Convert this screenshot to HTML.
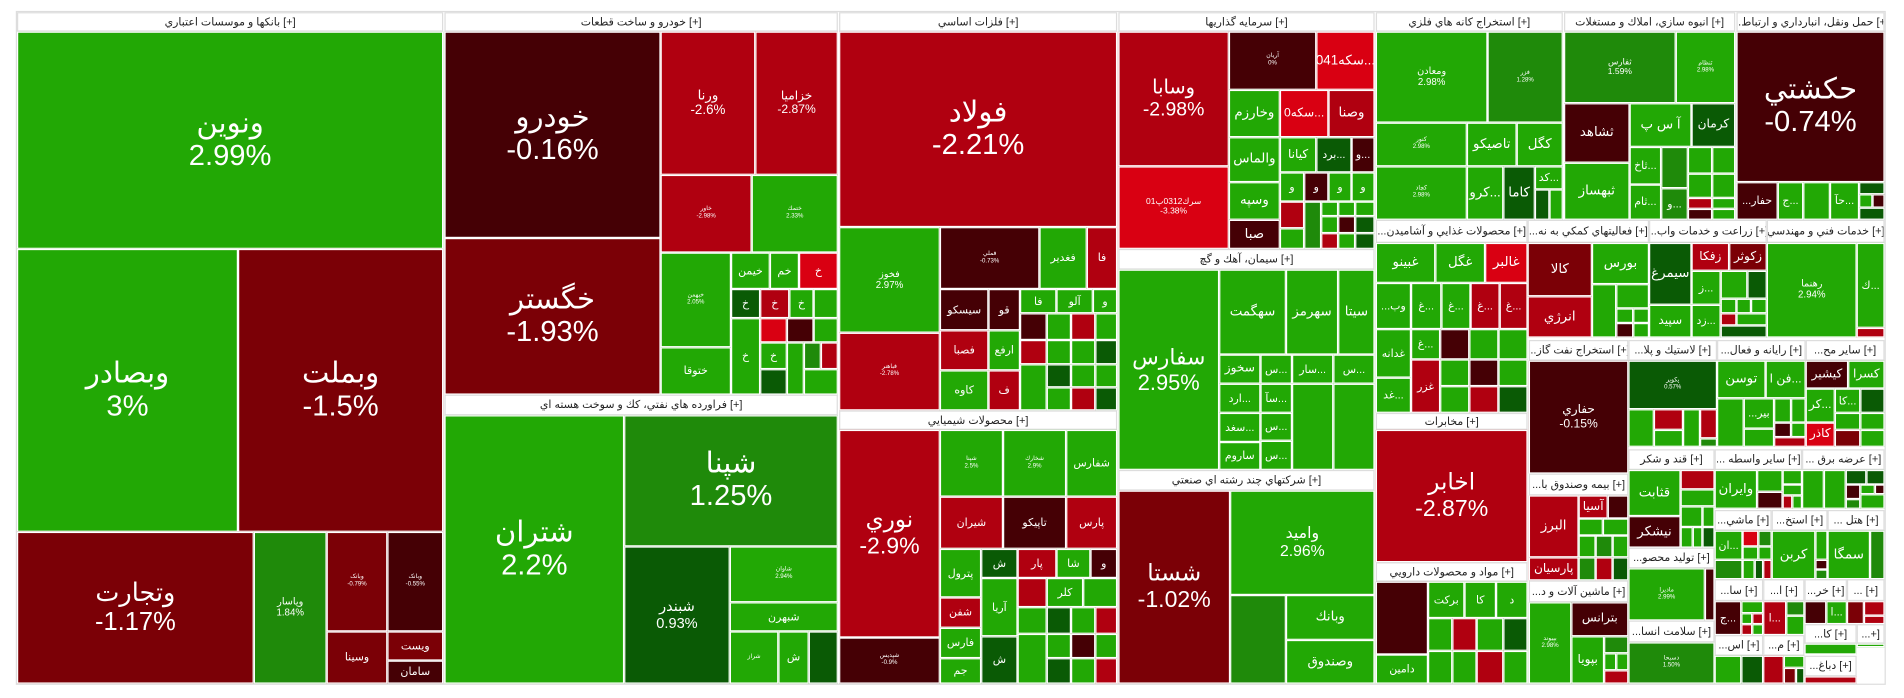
<!DOCTYPE html>
<html><head><meta charset="utf-8"><style>
html,body{margin:0;padding:0;background:#fff;width:1904px;height:698px;overflow:hidden}
#w{position:absolute;left:0;top:0;width:1568px;height:575px;transform:scale(1.2143);transform-origin:0 0}
.c,.h{position:absolute;box-sizing:border-box;overflow:hidden;display:flex;align-items:center;justify-content:center;text-align:center;font-family:"Liberation Sans","DejaVu Sans",sans-serif;line-height:1.12;white-space:nowrap}
.c{border:1px solid #fff;color:#fff;font-size:9px}
.h{background:#fff;border:1px solid #ddd;color:#222;font-size:9px}
.g{background:#22a805}.m{background:#1f8a0a}.d{background:#0a5a05}.k{background:#450005}.r{background:#7b0006}.b{background:#b00010}.e{background:#d90012}
.L{font-size:24px}.M{font-size:14px}.S{font-size:11px}.t{font-size:5px}
</style></head><body><div id="w">
<div style="position:absolute;left:13px;top:9px;width:1540px;height:555px;border:1px solid #ddd;box-sizing:border-box"></div>
<!-- banks -->
<div class="h" style="left:14px;top:10px;width:351px;height:16px">بانکها و موسسات اعتباري [+]</div>
<div class="c g L" style="left:14px;top:26px;width:351px;height:179px">ونوین<br>2.99%</div>
<div class="c g L" style="left:14px;top:205px;width:182px;height:233px">وبصادر<br>3%</div>
<div class="c r L" style="left:196px;top:205px;width:169px;height:233px">وبملت<br>-1.5%</div>
<div class="c r" style="left:14px;top:438px;width:195px;height:125px;font-size:21px">وتجارت<br>-1.17%</div>
<div class="c m" style="left:209px;top:438px;width:60px;height:125px;font-size:8px">وپاسار<br>1.84%</div>
<div class="c r t" style="left:269px;top:438px;width:50px;height:82px">وبانک<br>-0.79%</div>
<div class="c k t" style="left:319px;top:438px;width:46px;height:82px">وبانک<br>-0.55%</div>
<div class="c r" style="left:269px;top:520px;width:50px;height:43px">وسينا</div>
<div class="c r" style="left:319px;top:520px;width:46px;height:24px">ويست</div>
<div class="c k" style="left:319px;top:544px;width:46px;height:19px">سامان</div>
<!-- auto -->
<div class="h" style="left:366px;top:10px;width:324px;height:16px">خودرو و ساخت قطعات [+]</div>
<div class="c k L" style="left:366px;top:26px;width:178px;height:170px">خودرو<br>-0.16%</div>
<div class="c r L" style="left:366px;top:196px;width:178px;height:129px">خگستر<br>-1.93%</div>
<div class="c b S" style="left:544px;top:26px;width:78px;height:118px">ورنا<br>-2.6%</div>
<div class="c b" style="left:622px;top:26px;width:68px;height:118px;font-size:10px">خزاميا<br>-2.87%</div>
<div class="c b t" style="left:544px;top:144px;width:75px;height:64px">خاور<br>-2.98%</div>
<div class="c g t" style="left:619px;top:144px;width:71px;height:64px">ختمك<br>2.33%</div>
<div class="c g t" style="left:544px;top:208px;width:58px;height:78px">خبهمن<br>2.05%</div>
<div class="c g" style="left:544px;top:286px;width:58px;height:39px">ختوقا</div>
<div class="c g" style="left:602px;top:208px;width:32px;height:30px">خيمن</div>
<div class="c g" style="left:634px;top:208px;width:24px;height:30px">خم</div>
<div class="c e" style="left:658px;top:208px;width:32px;height:30px">خ</div>
<div class="c d" style="left:602px;top:238px;width:24px;height:24px">خ</div>
<div class="c b" style="left:626px;top:238px;width:24px;height:24px">خ</div>
<div class="c g" style="left:650px;top:238px;width:20px;height:24px">خ</div>
<div class="c g" style="left:670px;top:238px;width:20px;height:24px"></div>
<div class="c g" style="left:602px;top:262px;width:24px;height:63px">خ</div>
<div class="c e" style="left:626px;top:262px;width:22px;height:20px"></div>
<div class="c g" style="left:626px;top:282px;width:22px;height:22px">خ</div>
<div class="c d" style="left:626px;top:304px;width:22px;height:21px"></div>
<div class="c k" style="left:648px;top:262px;width:22px;height:20px"></div>
<div class="c g" style="left:670px;top:262px;width:20px;height:20px"></div>
<div class="c g" style="left:648px;top:282px;width:14px;height:43px"></div>
<div class="c m" style="left:662px;top:282px;width:14px;height:22px"></div>
<div class="c b" style="left:676px;top:282px;width:14px;height:22px"></div>
<div class="c g" style="left:662px;top:304px;width:28px;height:21px"></div>
<!-- refinery -->
<div class="h" style="left:366px;top:325px;width:324px;height:17px">فراورده هاي نفتي، کك و سوخت هسته اي [+]</div>
<div class="c g L" style="left:366px;top:342px;width:148px;height:221px">شتران<br>2.2%</div>
<div class="c m L" style="left:514px;top:342px;width:176px;height:108px">شپنا<br>1.25%</div>
<div class="c d" style="left:514px;top:450px;width:87px;height:113px;font-size:12px">شبندر<br>0.93%</div>
<div class="c g t" style="left:601px;top:450px;width:89px;height:46px">شاوان<br>2.94%</div>
<div class="c g" style="left:601px;top:496px;width:89px;height:24px">شبهرن</div>
<div class="c g t" style="left:601px;top:520px;width:40px;height:43px">شراز</div>
<div class="c g" style="left:641px;top:520px;width:25px;height:43px">ش</div>
<div class="c d" style="left:666px;top:520px;width:24px;height:43px"></div>
<!-- metals -->
<div class="h" style="left:691px;top:10px;width:229px;height:16px">فلزات اساسي [+]</div>
<div class="c b L" style="left:691px;top:26px;width:229px;height:161px">فولاد<br>-2.21%</div>
<div class="c g" style="left:691px;top:187px;width:83px;height:87px;font-size:8px">فخوز<br>2.97%</div>
<div class="c b t" style="left:691px;top:274px;width:83px;height:64px">فباهنر<br>-2.78%</div>
<div class="c k t" style="left:774px;top:187px;width:82px;height:51px">فملي<br>-0.73%</div>
<div class="c g" style="left:856px;top:187px;width:39px;height:51px">فغدير</div>
<div class="c b" style="left:895px;top:187px;width:25px;height:51px">فا</div>
<div class="c k" style="left:774px;top:238px;width:40px;height:34px">سيسكو</div>
<div class="c k" style="left:814px;top:238px;width:26px;height:34px">قو</div>
<div class="c g" style="left:840px;top:238px;width:30px;height:20px">فا</div>
<div class="c g" style="left:870px;top:238px;width:30px;height:20px">آلو</div>
<div class="c g" style="left:900px;top:238px;width:20px;height:20px">و</div>
<div class="c b" style="left:774px;top:272px;width:40px;height:33px">فصبا</div>
<div class="c g" style="left:814px;top:272px;width:26px;height:33px">ارفع</div>
<div class="c g" style="left:774px;top:305px;width:40px;height:33px">كاوه</div>
<div class="c b" style="left:814px;top:305px;width:26px;height:33px">ف</div>
<div class="c k" style="left:840px;top:258px;width:22px;height:22px"></div>
<div class="c g" style="left:862px;top:258px;width:20px;height:22px"></div>
<div class="c b" style="left:882px;top:258px;width:20px;height:22px"></div>
<div class="c g" style="left:902px;top:258px;width:18px;height:22px"></div>
<div class="c b" style="left:840px;top:280px;width:22px;height:20px"></div>
<div class="c g" style="left:862px;top:280px;width:20px;height:20px"></div>
<div class="c g" style="left:882px;top:280px;width:20px;height:20px"></div>
<div class="c d" style="left:902px;top:280px;width:18px;height:20px"></div>
<div class="c g" style="left:840px;top:300px;width:22px;height:38px"></div>
<div class="c d" style="left:862px;top:300px;width:20px;height:19px"></div>
<div class="c g" style="left:882px;top:300px;width:20px;height:19px"></div>
<div class="c g" style="left:902px;top:300px;width:18px;height:19px"></div>
<div class="c g" style="left:862px;top:319px;width:20px;height:19px"></div>
<div class="c b" style="left:882px;top:319px;width:20px;height:19px"></div>
<div class="c d" style="left:902px;top:319px;width:18px;height:19px"></div>
<!-- chem -->
<div class="h" style="left:691px;top:338px;width:229px;height:16px">محصولات شيميايي [+]</div>
<div class="c b L" style="left:691px;top:354px;width:83px;height:171px;font-size:19px">نوري<br>-2.9%</div>
<div class="c k t" style="left:691px;top:525px;width:83px;height:38px">شپديس<br>-0.9%</div>
<div class="c g t" style="left:774px;top:354px;width:52px;height:55px">شپنا<br>2.5%</div>
<div class="c g t" style="left:826px;top:354px;width:52px;height:55px">شخارك<br>2.9%</div>
<div class="c g" style="left:878px;top:354px;width:42px;height:55px">شفارس</div>
<div class="c b" style="left:774px;top:409px;width:52px;height:43px">شيران</div>
<div class="c k" style="left:826px;top:409px;width:52px;height:43px">تاپيكو</div>
<div class="c b" style="left:878px;top:409px;width:42px;height:43px">پارس</div>
<div class="c g" style="left:774px;top:452px;width:34px;height:40px">پترول</div>
<div class="c d" style="left:808px;top:452px;width:30px;height:24px">ش</div>
<div class="c b" style="left:838px;top:452px;width:32px;height:24px">پار</div>
<div class="c g" style="left:870px;top:452px;width:28px;height:24px">شا</div>
<div class="c k" style="left:898px;top:452px;width:22px;height:24px">و</div>
<div class="c b" style="left:774px;top:492px;width:34px;height:25px">شفن</div>
<div class="c g" style="left:774px;top:517px;width:34px;height:25px">فارس</div>
<div class="c g" style="left:774px;top:542px;width:34px;height:21px">جم</div>
<div class="c g" style="left:808px;top:476px;width:30px;height:48px">آريا</div>
<div class="c d" style="left:808px;top:524px;width:30px;height:39px">ش</div>
<div class="c b" style="left:838px;top:476px;width:24px;height:24px"></div>
<div class="c g" style="left:862px;top:476px;width:30px;height:24px">كلر</div>
<div class="c g" style="left:892px;top:476px;width:28px;height:24px"></div>
<div class="c g" style="left:838px;top:500px;width:24px;height:22px"></div>
<div class="c d" style="left:862px;top:500px;width:20px;height:22px"></div>
<div class="c g" style="left:882px;top:500px;width:20px;height:22px"></div>
<div class="c b" style="left:902px;top:500px;width:18px;height:22px"></div>
<div class="c g" style="left:838px;top:522px;width:24px;height:41px"></div>
<div class="c g" style="left:862px;top:522px;width:20px;height:20px"></div>
<div class="c k" style="left:882px;top:522px;width:20px;height:20px"></div>
<div class="c g" style="left:902px;top:522px;width:18px;height:20px"></div>
<div class="c d" style="left:862px;top:542px;width:20px;height:21px"></div>
<div class="c g" style="left:882px;top:542px;width:20px;height:21px"></div>
<div class="c b" style="left:902px;top:542px;width:18px;height:21px"></div>
<!-- invest -->
<div class="h" style="left:921px;top:10px;width:211px;height:16px">سرمايه گذاريها [+]</div>
<div class="c b" style="left:921px;top:26px;width:91px;height:111px;font-size:16px">وسابا<br>-2.98%</div>
<div class="c e" style="left:921px;top:137px;width:91px;height:68px;font-size:7px">سرك0312پ01<br>-3.38%</div>
<div class="c k t" style="left:1012px;top:26px;width:72px;height:48px">آريان<br>0%</div>
<div class="c e S" style="left:1084px;top:26px;width:48px;height:48px">سكه041...</div>
<div class="c g S" style="left:1012px;top:74px;width:42px;height:39px">وخارزم</div>
<div class="c e" style="left:1054px;top:74px;width:40px;height:39px;font-size:10px">سكه0...</div>
<div class="c b S" style="left:1094px;top:74px;width:38px;height:39px">وصنا</div>
<div class="c g S" style="left:1012px;top:113px;width:42px;height:37px">والماس</div>
<div class="c g" style="left:1054px;top:113px;width:30px;height:29px;font-size:10px">كيانا</div>
<div class="c d" style="left:1084px;top:113px;width:29px;height:29px">برد...</div>
<div class="c k" style="left:1113px;top:113px;width:19px;height:29px">و...</div>
<div class="c g S" style="left:1012px;top:150px;width:42px;height:31px">وسپه</div>
<div class="c k S" style="left:1012px;top:181px;width:42px;height:24px">صبا</div>
<div class="c g" style="left:1054px;top:142px;width:20px;height:24px">و</div>
<div class="c k" style="left:1074px;top:142px;width:20px;height:24px">و</div>
<div class="c g" style="left:1094px;top:142px;width:19px;height:24px">و</div>
<div class="c g" style="left:1113px;top:142px;width:19px;height:24px">و</div>
<div class="c b" style="left:1054px;top:166px;width:20px;height:22px"></div>
<div class="c g" style="left:1054px;top:188px;width:20px;height:17px"></div>
<div class="c m" style="left:1074px;top:166px;width:14px;height:39px"></div>
<div class="c g" style="left:1088px;top:166px;width:14px;height:12px"></div>
<div class="c g" style="left:1102px;top:166px;width:14px;height:12px"></div>
<div class="c g" style="left:1116px;top:166px;width:16px;height:12px"></div>
<div class="c g" style="left:1088px;top:178px;width:14px;height:14px"></div>
<div class="c k" style="left:1102px;top:178px;width:14px;height:14px"></div>
<div class="c d" style="left:1116px;top:178px;width:16px;height:14px"></div>
<div class="c b" style="left:1088px;top:192px;width:14px;height:13px"></div>
<div class="c g" style="left:1102px;top:192px;width:14px;height:13px"></div>
<div class="c d" style="left:1116px;top:192px;width:16px;height:13px"></div>
<!-- cement -->
<div class="h" style="left:921px;top:205px;width:211px;height:17px">سيمان، آهك و گچ [+]</div>
<div class="c g" style="left:921px;top:222px;width:83px;height:165px;font-size:18px">سفارس<br>2.95%</div>
<div class="c g S" style="left:1004px;top:222px;width:55px;height:70px">سهگمت</div>
<div class="c g S" style="left:1059px;top:222px;width:43px;height:70px">سهرمز</div>
<div class="c g S" style="left:1102px;top:222px;width:30px;height:70px">سيتا</div>
<div class="c g" style="left:1004px;top:292px;width:34px;height:24px;font-size:10px">سخوز</div>
<div class="c g" style="left:1038px;top:292px;width:26px;height:24px">س...</div>
<div class="c g" style="left:1064px;top:292px;width:34px;height:24px">سار...</div>
<div class="c g" style="left:1098px;top:292px;width:34px;height:24px">س...</div>
<div class="c g" style="left:1004px;top:316px;width:34px;height:24px">ارد...</div>
<div class="c g" style="left:1038px;top:316px;width:26px;height:24px">سآ...</div>
<div class="c g" style="left:1064px;top:316px;width:34px;height:71px"></div>
<div class="c g" style="left:1098px;top:316px;width:34px;height:71px"></div>
<div class="c g" style="left:1004px;top:340px;width:34px;height:24px">سغد...</div>
<div class="c g" style="left:1038px;top:340px;width:26px;height:23px">س...</div>
<div class="c g" style="left:1038px;top:363px;width:26px;height:24px">س...</div>
<div class="c g" style="left:1004px;top:364px;width:34px;height:23px">ساروم</div>
<!-- multi -->
<div class="h" style="left:921px;top:387px;width:211px;height:17px">شرکتهاي چند رشته اي صنعتي [+]</div>
<div class="c r" style="left:921px;top:404px;width:92px;height:159px;font-size:19px">شستا<br>-1.02%</div>
<div class="c g" style="left:1013px;top:404px;width:119px;height:86px;font-size:13px">وامید<br>2.96%</div>
<div class="c m" style="left:1013px;top:490px;width:46px;height:73px"></div>
<div class="c g S" style="left:1059px;top:490px;width:73px;height:37px">وبانك</div>
<div class="c g S" style="left:1059px;top:527px;width:73px;height:36px">وصندوق</div>
<!-- mining -->
<div class="h" style="left:1133px;top:10px;width:154px;height:16px">استخراج كانه هاي فلزي [+]</div>
<div class="c g" style="left:1133px;top:26px;width:92px;height:75px;font-size:8px">ومعادن<br>2.98%</div>
<div class="c m t" style="left:1225px;top:26px;width:62px;height:75px">فزر<br>1.28%</div>
<div class="c g t" style="left:1133px;top:101px;width:75px;height:36px">كنور<br>2.98%</div>
<div class="c g S" style="left:1208px;top:101px;width:41px;height:36px">تاصيكو</div>
<div class="c g S" style="left:1249px;top:101px;width:38px;height:36px">كگل</div>
<div class="c g t" style="left:1133px;top:137px;width:75px;height:44px">كچاد<br>2.98%</div>
<div class="c g S" style="left:1208px;top:137px;width:30px;height:44px">كرو...</div>
<div class="c d S" style="left:1238px;top:137px;width:26px;height:44px">كاما</div>
<div class="c g" style="left:1264px;top:137px;width:23px;height:19px">كد...</div>
<div class="c d" style="left:1264px;top:156px;width:12px;height:25px"></div>
<div class="c g" style="left:1276px;top:156px;width:11px;height:25px"></div>
<!-- food -->
<div class="h" style="left:1133px;top:181px;width:125px;height:19px">...محصولات غذايي و آشاميدن [+]</div>
<div class="c g S" style="left:1133px;top:200px;width:49px;height:33px">غبينو</div>
<div class="c g S" style="left:1182px;top:200px;width:41px;height:33px">غگل</div>
<div class="c e S" style="left:1223px;top:200px;width:35px;height:33px">غالبر</div>
<div class="c g" style="left:1133px;top:233px;width:29px;height:38px">...وب</div>
<div class="c g" style="left:1162px;top:233px;width:25px;height:38px">غ...</div>
<div class="c g" style="left:1187px;top:233px;width:24px;height:38px">غ...</div>
<div class="c b" style="left:1211px;top:233px;width:24px;height:38px">غ...</div>
<div class="c b" style="left:1235px;top:233px;width:23px;height:38px">غ...</div>
<div class="c g" style="left:1133px;top:271px;width:29px;height:40px">غدانه</div>
<div class="c g" style="left:1162px;top:271px;width:24px;height:25px">غ...</div>
<div class="c k" style="left:1186px;top:271px;width:24px;height:25px"></div>
<div class="c g" style="left:1210px;top:271px;width:24px;height:25px"></div>
<div class="c g" style="left:1234px;top:271px;width:24px;height:25px"></div>
<div class="c b" style="left:1162px;top:296px;width:24px;height:44px">غزر</div>
<div class="c g" style="left:1186px;top:296px;width:24px;height:22px"></div>
<div class="c k" style="left:1210px;top:296px;width:24px;height:22px"></div>
<div class="c g" style="left:1234px;top:296px;width:24px;height:22px"></div>
<div class="c g" style="left:1186px;top:318px;width:24px;height:22px"></div>
<div class="c b" style="left:1210px;top:318px;width:24px;height:22px"></div>
<div class="c d" style="left:1234px;top:318px;width:24px;height:22px"></div>
<div class="c g" style="left:1133px;top:311px;width:29px;height:29px">غد...</div>
<!-- telecom -->
<div class="h" style="left:1133px;top:340px;width:125px;height:14px">مخابرات [+]</div>
<div class="c b" style="left:1133px;top:354px;width:125px;height:109px;font-size:19px">اخابر<br>-2.87%</div>
<div class="h" style="left:1133px;top:463px;width:125px;height:16px">مواد و محصولات دارويي [+]</div>
<div class="c k" style="left:1133px;top:479px;width:43px;height:60px"></div>
<div class="c g" style="left:1133px;top:539px;width:43px;height:24px">دامين</div>
<div class="c g" style="left:1176px;top:479px;width:30px;height:30px">بركت</div>
<div class="c g" style="left:1206px;top:479px;width:26px;height:30px">كا</div>
<div class="c g" style="left:1232px;top:479px;width:26px;height:30px">د</div>
<div class="c g" style="left:1176px;top:509px;width:20px;height:27px"></div>
<div class="c b" style="left:1196px;top:509px;width:20px;height:27px"></div>
<div class="c g" style="left:1216px;top:509px;width:22px;height:27px"></div>
<div class="c d" style="left:1238px;top:509px;width:20px;height:27px"></div>
<div class="c g" style="left:1176px;top:536px;width:20px;height:27px"></div>
<div class="c g" style="left:1196px;top:536px;width:20px;height:27px"></div>
<div class="c b" style="left:1216px;top:536px;width:22px;height:27px"></div>
<div class="c g" style="left:1238px;top:536px;width:20px;height:27px"></div>
<!-- real estate -->
<div class="h" style="left:1288px;top:10px;width:141px;height:16px">انبوه سازي، املاك و مستغلات [+]</div>
<div class="c m t" style="left:1288px;top:26px;width:92px;height:59px;font-size:7px">ثفارس<br>1.59%</div>
<div class="c g t" style="left:1380px;top:26px;width:49px;height:59px">ثنظام<br>2.98%</div>
<div class="c k S" style="left:1288px;top:85px;width:54px;height:49px">ثشاهد</div>
<div class="c g S" style="left:1342px;top:85px;width:51px;height:36px">آ س پ</div>
<div class="c d" style="left:1393px;top:85px;width:36px;height:36px;font-size:10px">كرمان</div>
<div class="c g S" style="left:1288px;top:134px;width:54px;height:47px">ثبهساز</div>
<div class="c g" style="left:1342px;top:121px;width:26px;height:31px">ثاخ...</div>
<div class="c m" style="left:1368px;top:121px;width:22px;height:34px"></div>
<div class="c g" style="left:1390px;top:121px;width:20px;height:22px"></div>
<div class="c g" style="left:1410px;top:121px;width:19px;height:22px"></div>
<div class="c g" style="left:1390px;top:143px;width:20px;height:20px"></div>
<div class="c g" style="left:1410px;top:143px;width:19px;height:20px"></div>
<div class="c g" style="left:1342px;top:152px;width:26px;height:29px">ثام...</div>
<div class="c m" style="left:1368px;top:155px;width:22px;height:26px">و...</div>
<div class="c b" style="left:1390px;top:163px;width:20px;height:9px"></div>
<div class="c g" style="left:1410px;top:163px;width:19px;height:9px"></div>
<div class="c k" style="left:1390px;top:172px;width:20px;height:9px"></div>
<div class="c g" style="left:1410px;top:172px;width:19px;height:9px"></div>
<!-- transport -->
<div class="h" style="left:1430px;top:10px;width:122px;height:16px">...حمل ونقل، انبارداري و ارتباط [+]</div>
<div class="c k L" style="left:1430px;top:26px;width:122px;height:124px">حكشتي<br>-0.74%</div>
<div class="c k" style="left:1430px;top:150px;width:34px;height:31px">...حفار</div>
<div class="c g" style="left:1464px;top:150px;width:21px;height:31px">ج...</div>
<div class="c g" style="left:1485px;top:150px;width:22px;height:31px"></div>
<div class="c g" style="left:1507px;top:150px;width:24px;height:31px">حآ...</div>
<div class="c d" style="left:1531px;top:150px;width:21px;height:10px"></div>
<div class="c g" style="left:1531px;top:160px;width:11px;height:11px"></div>
<div class="c k" style="left:1542px;top:160px;width:10px;height:11px"></div>
<div class="c d" style="left:1531px;top:171px;width:21px;height:10px"></div>
<!-- row2 col6 -->
<div class="h" style="left:1258px;top:181px;width:100px;height:19px">...فعاليتهاي كمكي به نه [+]</div>
<div class="c r S" style="left:1258px;top:200px;width:53px;height:44px">كالا</div>
<div class="c b S" style="left:1258px;top:244px;width:53px;height:34px">انرژي</div>
<div class="c g S" style="left:1311px;top:200px;width:47px;height:34px">بورس</div>
<div class="c g" style="left:1311px;top:234px;width:20px;height:44px"></div>
<div class="c g" style="left:1331px;top:234px;width:27px;height:20px"></div>
<div class="c g" style="left:1331px;top:254px;width:14px;height:12px"></div>
<div class="c g" style="left:1345px;top:254px;width:13px;height:12px"></div>
<div class="c k" style="left:1331px;top:266px;width:14px;height:12px"></div>
<div class="c g" style="left:1345px;top:266px;width:13px;height:12px"></div>
<div class="h" style="left:1358px;top:181px;width:97px;height:19px">...زراعت و خدمات واب [+]</div>
<div class="c d S" style="left:1358px;top:200px;width:35px;height:51px">سيمرغ</div>
<div class="c b" style="left:1393px;top:200px;width:31px;height:23px;font-size:10px">زفكا</div>
<div class="c r" style="left:1424px;top:200px;width:31px;height:23px;font-size:10px">زكوثر</div>
<div class="c g" style="left:1358px;top:251px;width:35px;height:27px;font-size:10px">سپيد</div>
<div class="c g" style="left:1393px;top:223px;width:24px;height:28px">ز...</div>
<div class="c g" style="left:1393px;top:251px;width:24px;height:27px">زد...</div>
<div class="c g" style="left:1417px;top:223px;width:22px;height:23px"></div>
<div class="c d" style="left:1439px;top:223px;width:16px;height:23px"></div>
<div class="c g" style="left:1417px;top:246px;width:13px;height:12px"></div>
<div class="c g" style="left:1430px;top:246px;width:12px;height:12px"></div>
<div class="c g" style="left:1442px;top:246px;width:13px;height:12px"></div>
<div class="c b" style="left:1417px;top:258px;width:13px;height:10px"></div>
<div class="c g" style="left:1430px;top:258px;width:25px;height:10px"></div>
<div class="c d" style="left:1417px;top:268px;width:38px;height:10px"></div>
<div class="h" style="left:1455px;top:181px;width:97px;height:19px">خدمات فني و مهندسي [+]</div>
<div class="c g" style="left:1455px;top:200px;width:74px;height:78px;font-size:8px">رهنما<br>2.94%</div>
<div class="c g" style="left:1529px;top:200px;width:23px;height:70px">ك...</div>
<div class="c b" style="left:1529px;top:270px;width:23px;height:8px"></div>
<!-- row3 -->
<div class="h" style="left:1259px;top:280px;width:82px;height:17px">...استخراج نفت گاز [+]</div>
<div class="c k" style="left:1259px;top:297px;width:82px;height:93px;font-size:10px">حفاري<br>-0.15%</div>
<div class="h" style="left:1341px;top:280px;width:73px;height:17px">...لاستيك و پلا [+]</div>
<div class="c d t" style="left:1341px;top:297px;width:73px;height:40px">پكوير<br>0.57%</div>
<div class="c g" style="left:1341px;top:337px;width:21px;height:31px"></div>
<div class="c b" style="left:1362px;top:337px;width:24px;height:17px"></div>
<div class="c g" style="left:1362px;top:354px;width:24px;height:14px"></div>
<div class="c g" style="left:1386px;top:337px;width:14px;height:31px"></div>
<div class="c b" style="left:1400px;top:337px;width:14px;height:24px"></div>
<div class="c m" style="left:1400px;top:361px;width:14px;height:7px"></div>
<div class="h" style="left:1414px;top:280px;width:73px;height:17px">...رايانه و فعال [+]</div>
<div class="c g S" style="left:1414px;top:297px;width:40px;height:31px">توسن</div>
<div class="c g" style="left:1454px;top:297px;width:33px;height:31px;font-size:10px">فن ا...</div>
<div class="c g" style="left:1414px;top:328px;width:22px;height:40px"></div>
<div class="c g" style="left:1436px;top:328px;width:25px;height:25px">...بير</div>
<div class="c g" style="left:1436px;top:353px;width:25px;height:15px"></div>
<div class="c g" style="left:1461px;top:328px;width:14px;height:20px"></div>
<div class="c g" style="left:1475px;top:328px;width:12px;height:20px"></div>
<div class="c k" style="left:1461px;top:348px;width:14px;height:12px"></div>
<div class="c g" style="left:1475px;top:348px;width:12px;height:12px"></div>
<div class="c b" style="left:1461px;top:360px;width:26px;height:8px"></div>
<div class="h" style="left:1487px;top:280px;width:65px;height:17px">...ساير مح [+]</div>
<div class="c k" style="left:1487px;top:297px;width:35px;height:23px;font-size:10px">كيشير</div>
<div class="c g" style="left:1522px;top:297px;width:30px;height:23px;font-size:10px">كسرا</div>
<div class="c g" style="left:1487px;top:320px;width:24px;height:28px;font-size:10px">كر...</div>
<div class="c g" style="left:1511px;top:320px;width:21px;height:20px">كا...</div>
<div class="c d" style="left:1532px;top:320px;width:20px;height:20px"></div>
<div class="c e" style="left:1487px;top:348px;width:24px;height:20px;font-size:10px">كاذر</div>
<div class="c g" style="left:1511px;top:340px;width:21px;height:14px"></div>
<div class="c g" style="left:1532px;top:340px;width:20px;height:14px"></div>
<div class="c r" style="left:1511px;top:354px;width:21px;height:14px"></div>
<div class="c g" style="left:1532px;top:354px;width:20px;height:14px"></div>
<!-- insurance etc -->
<div class="h" style="left:1259px;top:390px;width:82px;height:18px">...بيمه وصندوق با [+]</div>
<div class="c b S" style="left:1259px;top:408px;width:41px;height:51px">البرز</div>
<div class="c b" style="left:1259px;top:459px;width:41px;height:19px;font-size:10px">پارسيان</div>
<div class="c b" style="left:1300px;top:408px;width:24px;height:19px;font-size:10px">آسيا</div>
<div class="c k" style="left:1324px;top:408px;width:17px;height:19px"></div>
<div class="c g" style="left:1300px;top:427px;width:20px;height:14px"></div>
<div class="c g" style="left:1320px;top:427px;width:21px;height:14px"></div>
<div class="c g" style="left:1300px;top:441px;width:14px;height:18px"></div>
<div class="c m" style="left:1314px;top:441px;width:14px;height:18px"></div>
<div class="c g" style="left:1328px;top:441px;width:13px;height:18px"></div>
<div class="c m" style="left:1300px;top:459px;width:14px;height:19px"></div>
<div class="c b" style="left:1314px;top:459px;width:14px;height:19px"></div>
<div class="c d" style="left:1328px;top:459px;width:13px;height:19px"></div>
<div class="h" style="left:1259px;top:478px;width:82px;height:18px">...ماشين آلات و د [+]</div>
<div class="c g t" style="left:1259px;top:496px;width:35px;height:67px">بپيوند<br>2.98%</div>
<div class="c k" style="left:1294px;top:496px;width:47px;height:28px;font-size:10px">بترانس</div>
<div class="c g" style="left:1294px;top:524px;width:27px;height:39px;font-size:10px">بپويا</div>
<div class="c m" style="left:1321px;top:524px;width:20px;height:14px"></div>
<div class="c g" style="left:1321px;top:538px;width:10px;height:14px"></div>
<div class="c g" style="left:1331px;top:538px;width:10px;height:14px"></div>
<div class="c b" style="left:1321px;top:552px;width:20px;height:11px"></div>
<div class="h" style="left:1341px;top:370px;width:71px;height:17px">قند و شكر [+]</div>
<div class="c g S" style="left:1341px;top:387px;width:43px;height:38px">قثابت</div>
<div class="c k S" style="left:1341px;top:425px;width:43px;height:26px">نيشكر</div>
<div class="c b" style="left:1384px;top:387px;width:28px;height:16px"></div>
<div class="c g" style="left:1384px;top:403px;width:28px;height:14px"></div>
<div class="c g" style="left:1384px;top:417px;width:18px;height:17px"></div>
<div class="c g" style="left:1402px;top:417px;width:10px;height:17px"></div>
<div class="c g" style="left:1384px;top:434px;width:10px;height:17px"></div>
<div class="c g" style="left:1394px;top:434px;width:8px;height:17px"></div>
<div class="c d" style="left:1402px;top:434px;width:10px;height:17px"></div>
<div class="h" style="left:1341px;top:451px;width:71px;height:17px">...توليد محصو [+]</div>
<div class="c g t" style="left:1341px;top:468px;width:63px;height:43px">ماديرا<br>2.99%</div>
<div class="c k" style="left:1404px;top:468px;width:8px;height:43px"></div>
<div class="h" style="left:1341px;top:511px;width:71px;height:18px">...سلامت انسا [+]</div>
<div class="c m t" style="left:1341px;top:529px;width:71px;height:34px">دسبحا<br>1.50%</div>
<div class="h" style="left:1412px;top:370px;width:72px;height:17px">... ساير واسطه [+]</div>
<div class="c g S" style="left:1412px;top:387px;width:35px;height:32px">وايران</div>
<div class="c g" style="left:1447px;top:387px;width:21px;height:18px"></div>
<div class="c g" style="left:1468px;top:387px;width:16px;height:12px"></div>
<div class="c g" style="left:1468px;top:399px;width:16px;height:9px"></div>
<div class="c k" style="left:1447px;top:405px;width:21px;height:14px"></div>
<div class="c b" style="left:1468px;top:408px;width:8px;height:11px"></div>
<div class="c g" style="left:1476px;top:408px;width:8px;height:11px"></div>
<div class="h" style="left:1484px;top:370px;width:68px;height:17px">... عرضه برق [+]</div>
<div class="c g" style="left:1484px;top:387px;width:18px;height:32px"></div>
<div class="c g" style="left:1502px;top:387px;width:18px;height:32px"></div>
<div class="c d" style="left:1520px;top:387px;width:17px;height:12px"></div>
<div class="c d" style="left:1537px;top:387px;width:15px;height:12px"></div>
<div class="c k" style="left:1520px;top:399px;width:12px;height:12px"></div>
<div class="c g" style="left:1532px;top:399px;width:12px;height:8px"></div>
<div class="c k" style="left:1544px;top:399px;width:8px;height:8px"></div>
<div class="c m" style="left:1520px;top:411px;width:12px;height:8px"></div>
<div class="c g" style="left:1532px;top:407px;width:20px;height:12px"></div>
<div class="h" style="left:1412px;top:420px;width:47px;height:17px">...ماشي [+]</div>
<div class="c g" style="left:1412px;top:437px;width:23px;height:24px">ان...</div>
<div class="c e" style="left:1435px;top:437px;width:13px;height:13px"></div>
<div class="c m" style="left:1448px;top:437px;width:11px;height:13px"></div>
<div class="c g" style="left:1435px;top:450px;width:13px;height:11px"></div>
<div class="c g" style="left:1448px;top:450px;width:11px;height:11px"></div>
<div class="c m" style="left:1412px;top:461px;width:23px;height:16px"></div>
<div class="c g" style="left:1435px;top:461px;width:10px;height:16px"></div>
<div class="c d" style="left:1445px;top:461px;width:7px;height:16px"></div>
<div class="c b" style="left:1452px;top:461px;width:7px;height:16px"></div>
<div class="h" style="left:1459px;top:420px;width:46px;height:17px">...استخ [+]</div>
<div class="c g S" style="left:1459px;top:437px;width:36px;height:40px">كربن</div>
<div class="c g" style="left:1495px;top:437px;width:10px;height:24px"></div>
<div class="c k" style="left:1495px;top:461px;width:10px;height:8px"></div>
<div class="c m" style="left:1495px;top:469px;width:10px;height:8px"></div>
<div class="h" style="left:1505px;top:420px;width:47px;height:17px">... هتل [+]</div>
<div class="c g S" style="left:1505px;top:437px;width:35px;height:40px">سمگا</div>
<div class="c m" style="left:1540px;top:437px;width:12px;height:40px"></div>
<div class="h" style="left:1412px;top:477px;width:40px;height:18px">...سا [+]</div>
<div class="c k" style="left:1412px;top:495px;width:22px;height:28px">ج...</div>
<div class="c g" style="left:1434px;top:495px;width:18px;height:10px"></div>
<div class="c g" style="left:1434px;top:505px;width:9px;height:9px"></div>
<div class="c b" style="left:1443px;top:505px;width:9px;height:9px"></div>
<div class="c b" style="left:1434px;top:514px;width:9px;height:9px"></div>
<div class="c g" style="left:1443px;top:514px;width:9px;height:9px"></div>
<div class="h" style="left:1452px;top:477px;width:34px;height:18px">...ا [+]</div>
<div class="c b" style="left:1452px;top:495px;width:19px;height:28px">ا...</div>
<div class="c m" style="left:1471px;top:495px;width:15px;height:12px"></div>
<div class="c g" style="left:1471px;top:507px;width:15px;height:16px"></div>
<div class="h" style="left:1486px;top:477px;width:35px;height:18px">...خر [+]</div>
<div class="c k" style="left:1486px;top:495px;width:18px;height:19px"></div>
<div class="c g" style="left:1504px;top:495px;width:17px;height:19px">ا...</div>
<div class="h" style="left:1521px;top:477px;width:31px;height:18px">... [+]</div>
<div class="c r" style="left:1521px;top:495px;width:14px;height:19px"></div>
<div class="c b" style="left:1535px;top:495px;width:17px;height:12px"></div>
<div class="c b" style="left:1535px;top:507px;width:17px;height:7px"></div>
<div class="h" style="left:1486px;top:514px;width:43px;height:16px">...كا [+]</div>
<div class="c g" style="left:1486px;top:530px;width:43px;height:9px"></div>
<div class="h" style="left:1529px;top:514px;width:23px;height:16px">...+]</div>
<div class="c g" style="left:1529px;top:530px;width:23px;height:3px"></div>
<div class="h" style="left:1412px;top:523px;width:40px;height:17px">...اس [+]</div>
<div class="c g" style="left:1412px;top:540px;width:22px;height:23px"></div>
<div class="c d" style="left:1434px;top:540px;width:18px;height:23px"></div>
<div class="h" style="left:1452px;top:523px;width:34px;height:17px">...م [+]</div>
<div class="c b" style="left:1452px;top:540px;width:17px;height:23px"></div>
<div class="c g" style="left:1469px;top:540px;width:17px;height:10px"></div>
<div class="c r" style="left:1469px;top:550px;width:10px;height:13px"></div>
<div class="c d" style="left:1479px;top:550px;width:7px;height:13px"></div>
<div class="h" style="left:1486px;top:540px;width:43px;height:17px">...دباغ [+]</div>
<div class="c b" style="left:1486px;top:557px;width:43px;height:6px"></div>
</div></body></html>
